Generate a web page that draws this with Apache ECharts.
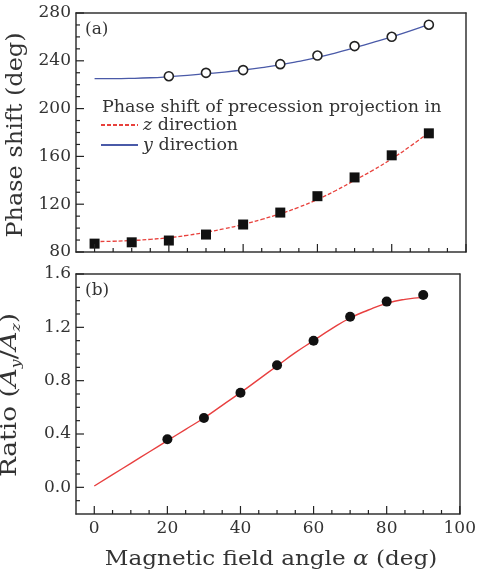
<!DOCTYPE html>
<html>
<head>
<meta charset="utf-8">
<script src="https://cdn.jsdelivr.net/npm/echarts@6/dist/echarts.min.js"></script>
<style>
  html, body { margin: 0; padding: 0; background: #fff; }
  #chart { width: 479px; height: 580px; }
</style>
</head>
<body>
<div id="chart"></div>
<script>
// measured points, panel (a)
const zAngles = [0, 10, 20, 30, 40, 50, 60, 70, 80, 90];
const zPhase = [87, 88.1, 89.6, 94.6, 103, 113, 126.7, 142.4, 160.9, 179.3];
const yAngles = [20, 30, 40, 50, 60, 70, 80, 90];
const yPhase = [227.1, 229.9, 232.2, 237.2, 244.4, 252.3, 260.1, 270.2];

// fitted curves (every 5 deg)
const curveAngles = [0, 5, 10, 15, 20, 25, 30, 35, 40, 45, 50, 55, 60, 65, 70, 75, 80, 85, 90];
const zCurve = [88.7, 89, 89.6, 90.6, 92, 94, 96.5, 99.5, 103, 107.3, 112, 117.5, 124, 131.5, 140, 148.5, 158, 168.5, 180];
const yCurve = [225.1, 225.1, 225.3, 225.8, 226.7, 227.8, 229.2, 230.6, 232.3, 234.3, 236.6, 239.5, 242.8, 246.7, 251, 255.4, 260, 265, 270.5];

// panel (b)
const ratioAngles = [20, 30, 40, 50, 60, 70, 80, 90];
const ratioPts = [0.36, 0.52, 0.71, 0.916, 1.10, 1.28, 1.393, 1.443];
const ratioCurve = [0.01, 0.095, 0.18, 0.265, 0.35, 0.435, 0.52, 0.615, 0.71, 0.81, 0.91, 1.01, 1.10, 1.19, 1.27, 1.33, 1.38, 1.41, 1.425];

const xMajor = [0, 20, 40, 60, 80, 100];
const xMinor = [5, 10, 15, 25, 30, 35, 45, 50, 55, 65, 70, 75, 85, 90, 95];
const phaseMajor = [80, 120, 160, 200, 240, 280];
const phaseMinor = [90, 100, 110, 130, 140, 150, 170, 180, 190, 210, 220, 230, 250, 260, 270];
const ratioMajor = [0, 0.4, 0.8, 1.2, 1.6];
const ratioMinor = [-0.1, 0.1, 0.2, 0.3, 0.5, 0.6, 0.7, 0.9, 1.0, 1.1, 1.3, 1.4, 1.5];

const X_MIN = -5, X_MAX = 100;
const serif = "DejaVu Serif";
const ink = "#333";
const pair = (xs, ys) => xs.map((x, i) => [x, ys[i]]);

const chart = echarts.init(document.getElementById("chart"));

const lbl = { fontFamily: serif, fontSize: 17, color: ink };

function axis(grid, min, max, position, opts) {
	return {
		type: "value", gridIndex: grid, min: min, max: max, position: position,
		axisLine: { show: !!opts.line, onZero: false, lineStyle: { color: ink, width: 1.5 } },
		axisTick: { show: false },
		axisLabel: opts.labels
			? Object.assign({ show: true, customValues: opts.labels, margin: opts.margin, formatter: opts.fmt }, lbl)
			: { show: false },
		splitLine: { show: false },
	};
}

const nameStyle = { fontFamily: serif, fontSize: 22, fill: ink, align: "center", verticalAlign: "middle" };
const titleText = { fontFamily: serif, fontSize: 17, fontWeight: "normal", color: ink };

chart.setOption({
	animation: false,
	grid: [
		{ left: 76, top: 13, width: 390, height: 239 },
		{ left: 76, top: 274, width: 390, height: 240 },
	],
	title: [
		{ text: "(a)", left: 85, top: 21, padding: 0, textStyle: titleText },
		{ text: "(b)", left: 85, top: 282, padding: 0, textStyle: titleText },
		{ text: "Phase shift of precession projection in", left: 102, top: 98, padding: 0, textStyle: Object.assign({}, titleText, { fontSize: 17.5 }) },
	],
	legend: {
		orient: "vertical", left: 100, top: 116, padding: 0, itemGap: 2, itemWidth: 37, itemHeight: 16,
		data: ["z", "y"],
		itemStyle: { color: "transparent", borderColor: "transparent", borderWidth: 0 },
		formatter: (n) => "{i|" + n + "} direction",
		textStyle: { fontFamily: serif, fontSize: 17.5, color: ink, rich: { i: { fontFamily: serif, fontSize: 17.5, fontStyle: "italic", color: ink } } },
	},
	xAxis: [
		axis(0, X_MIN, X_MAX, "bottom", { line: true }),
		axis(0, X_MIN, X_MAX, "top", { line: true }),
		axis(1, X_MIN, X_MAX, "bottom", { line: true, labels: xMajor, margin: 6 }),
		axis(1, X_MIN, X_MAX, "top", { line: true }),
	],
	yAxis: [
		axis(0, 80, 280, "left", { line: true, labels: phaseMajor, margin: 5 }),
		axis(0, 80, 280, "right", { line: true }),
		axis(1, -0.2, 1.6, "left", { line: true, labels: ratioMajor, margin: 5, fmt: (v) => v.toFixed(1) }),
		axis(1, -0.2, 1.6, "right", { line: true }),
	],
	series: [
		{
			name: "z", type: "line", xAxisIndex: 0, yAxisIndex: 0, data: pair(curveAngles, zCurve),
			smooth: true, showSymbol: false, symbol: "none", z: 2,
			lineStyle: { color: "#e8413c", width: 1.3, type: [4, 2] }, itemStyle: { color: "#e8413c" },
		},
		{
			name: "y", type: "line", xAxisIndex: 0, yAxisIndex: 0, data: pair(curveAngles, yCurve),
			smooth: true, showSymbol: false, symbol: "none", z: 2,
			lineStyle: { color: "#4a5aa8", width: 1.3 }, itemStyle: { color: "#4a5aa8" },
		},
		{
			name: "zPts", type: "scatter", xAxisIndex: 0, yAxisIndex: 0, data: pair(zAngles, zPhase),
			symbol: "rect", symbolSize: 10, itemStyle: { color: "#111", opacity: 1 }, z: 3,
		},
		{
			name: "yPts", type: "scatter", xAxisIndex: 0, yAxisIndex: 0, data: pair(yAngles, yPhase),
			symbol: "circle", symbolSize: 9, itemStyle: { color: "#fff", borderColor: "#222", borderWidth: 1.6, opacity: 1 }, z: 3,
		},
		{
			name: "ratioFit", type: "line", xAxisIndex: 2, yAxisIndex: 2, data: pair(curveAngles, ratioCurve),
			smooth: true, showSymbol: false, symbol: "none", z: 2,
			lineStyle: { color: "#e84040", width: 1.4 },
		},
		{
			name: "ratioPts", type: "scatter", xAxisIndex: 2, yAxisIndex: 2, data: pair(ratioAngles, ratioPts),
			symbol: "circle", symbolSize: 10, itemStyle: { color: "#111", opacity: 1 }, z: 3,
		},
	],
});

// axis names (text) + inward tick marks placed with the chart's own scales
const graphics = [
	{
		type: "text", x: 16, y: 135, rotation: Math.PI / 2, scaleX: 1.09, silent: true,
		style: Object.assign({ text: "Phase shift (deg)" }, nameStyle),
	},
	{
		type: "text", x: 10, y: 395, rotation: Math.PI / 2, scaleX: 1.2, silent: true,
		style: Object.assign({
			text: "{n|Ratio (}{i|A}{s|y}{n|/}{i|A}{s|z}{n|)}",
			rich: {
				n: { fontFamily: serif, fontSize: 22, fill: ink, lineHeight: 26 },
				i: { fontFamily: serif, fontSize: 22, fontStyle: "italic", fill: ink, lineHeight: 26 },
				s: { fontFamily: serif, fontSize: 13, fontStyle: "italic", fill: ink, verticalAlign: "bottom", lineHeight: 26 },
			},
		}, nameStyle),
	},
	{
		type: "text", x: 271, y: 560, scaleX: 1.1, silent: true,
		style: Object.assign({
			text: "Magnetic field angle {i|α} (deg)",
			rich: { i: { fontFamily: serif, fontSize: 21, fontStyle: "italic", fill: ink } },
		}, nameStyle, { fontSize: 21 }),
	},
];

function addTicks(seriesIndex, values, vertical, at, len) {
	values.forEach((v) => {
		const p = chart.convertToPixel({ seriesIndex: seriesIndex }, vertical ? [v, at] : [at, v]);
		if (!p || isNaN(p[0]) || isNaN(p[1])) return;
		const shape = vertical
			? { x: p[0] - 0.6, y: p[1] - len, width: 1.2, height: len }
			: { x: p[0], y: p[1] - 0.6, width: len, height: 1.2 };
		graphics.push({ type: "rect", shape: shape, style: { fill: "#222" }, silent: true, z: 100 });
	});
}
addTicks(2, xMajor, true, 80, 8);
addTicks(2, xMinor, true, 80, 4);
addTicks(2, phaseMajor, false, X_MIN, 8);
addTicks(2, phaseMinor, false, X_MIN, 4);
addTicks(5, xMajor, true, -0.2, 8);
addTicks(5, xMinor, true, -0.2, 4);
addTicks(5, ratioMajor, false, X_MIN, 8);
addTicks(5, ratioMinor, false, X_MIN, 4);

chart.setOption({ graphic: graphics });
</script>
</body>
</html>
